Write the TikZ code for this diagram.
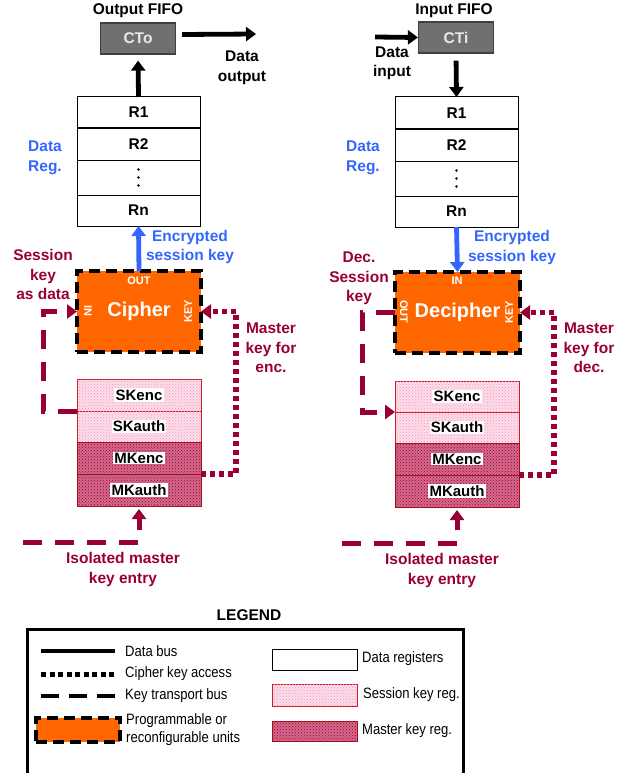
\documentclass[tikz,border=0pt]{standalone}
\usepackage{fontspec}
\setmainfont{Liberation Sans}
\newfontfamily\narrowfont[FakeStretch=0.87]{Liberation Sans}
\usetikzlibrary{arrows.meta,patterns}
\definecolor{maroon}{RGB}{153,0,51}
\definecolor{regblue}{RGB}{51,102,255}
\definecolor{orng}{RGB}{255,102,0}
\definecolor{skfill}{RGB}{252,222,234}
\definecolor{skdots}{RGB}{250,150,190}
\definecolor{mkfill}{RGB}{210,105,140}
\definecolor{mkdots}{RGB}{160,0,45}
\definecolor{regred}{RGB}{210,20,30}
\definecolor{fifogray}{RGB}{112,112,112}
\definecolor{fifotext}{RGB}{232,232,232}
\setlength{\fboxsep}{1.2pt}
\tikzset{
  lbl/.style={font=\bfseries\fontsize{15.5}{19.5}\selectfont, align=center, inner sep=0pt},
  dreg/.style={draw=black, line width=1pt, fill=white, minimum width=123pt, inner sep=0pt, outer sep=0pt, font=\bfseries\fontsize{15.5}{18}\selectfont},
  fifo/.style={draw=black!75, line width=1.2pt, fill=fifogray, minimum width=75pt, minimum height=31pt, inner sep=0pt, text=fifotext, font=\bfseries\fontsize{15.5}{18}\selectfont},
  unit/.style={draw=black, line width=3.5pt, dash pattern=on 11pt off 6pt, fill=orng, minimum width=124pt, minimum height=81pt, inner sep=0pt, outer sep=0pt, text=white, font=\bfseries\fontsize{20}{24}\selectfont},
  port/.style={text=white, inner sep=0pt, font=\bfseries\fontsize{11}{13}\selectfont},
  skreg/.style={draw=regred, line width=0.9pt, fill=skfill, postaction={pattern=crosshatch dots, pattern color=skdots}, minimum width=124pt, inner sep=0pt, outer sep=0pt, font=\bfseries\fontsize{15}{18}\selectfont},
  mkreg/.style={draw=regred!80!black, line width=0.9pt, fill=mkfill, postaction={pattern=crosshatch dots, pattern color=mkdots}, minimum width=124pt, inner sep=0pt, outer sep=0pt, font=\bfseries\fontsize{15}{18}\selectfont},
  bus/.style={line width=4.8pt, -{Triangle[length=10pt,width=14pt]}},
  bluebus/.style={bus, draw=regblue},
  keybus/.style={draw=maroon, line width=5pt, dash pattern=on 19pt off 13pt, -{Triangle[length=10pt,width=14pt]}},
  keyacc/.style={draw=maroon, line width=5.5pt, dash pattern=on 5pt off 4pt, -{Triangle[length=10pt,width=14pt]}},
  legtxt/.style={anchor=west, inner sep=0pt, font=\narrowfont\fontsize{15}{18}\selectfont},
}
\begin{document}
\begin{tikzpicture}[x=1pt,y=-1pt]
\useasboundingbox (0,0) rectangle (626,773);

% ---------------- left (cipher) side ----------------
\node[lbl] (ofifo) at (138,11) {Output FIFO};
\node[fifo] (CTo) at (138,38.5) {CTo};
\coordinate (dout) at (256,34);
\draw[bus] ([shift={(6,-4)}]CTo.east) -- (dout);
\node[lbl] (doutlbl) at (242,68) {Data\\output};

\node[dreg, minimum height=31pt] (R1L) at (138.5,112.5) {R1};
\node[dreg, minimum height=32pt] (R2L) at (138.5,144) {R2};
\node[dreg, minimum height=35pt] (DL) at (138.5,177.5) {};
\node[dreg, minimum height=31pt] (RnL) at (138.5,210.5) {Rn};
\foreach \d in {-8,0,8} \fill ([yshift=\d pt]DL.center) circle (1.3pt);
\node[lbl, text=regblue] (dregL) at (45,158) {Data\\Reg.};
\draw[bus, shorten >=6pt] (R1L.north) -- (CTo.south);

\node[unit] (Ci) at (139,311.5) {Cipher};
\node[port] (CiOut) at (139,281) {OUT};
\node[port, rotate=-90] (CiIn) at (88,311) {IN};
\node[port, rotate=90] (CiKey) at (188,311) {KEY};
\draw[bluebus] (Ci.north) -- (RnL.south);
\node[lbl, text=regblue] (esk1) at (190,247) {Encrypted\\session key};

\node[skreg, minimum height=32pt] (SKencL) at (139,395) {\colorbox{white}{SKenc}};
\node[skreg, minimum height=31pt] (SKauthL) at (139,426.5) {\colorbox{white}{SKauth}};
\node[mkreg, minimum height=32pt] (MKencL) at (139,458) {\colorbox{white}{MKenc}};
\node[mkreg, minimum height=32pt] (MKauthL) at (139,490) {\colorbox{white}{MKauth}};

\draw[keybus] (SKencL.south west) -- ++(-34,0) |- (Ci.west);
\node[lbl, text=maroon] (skdata) at (43,274.5) {Session\\key\\as data};
\draw[keyacc] (MKencL.south east) -- ++(35,0) |- (Ci.east);
\node[lbl, text=maroon] (mkenc) at (271,348) {Master\\key for\\enc.};

\coordinate (imeL) at (23,542);
\draw[keybus, shorten >=3pt] (imeL) -| (MKauthL.south);
\node[lbl, text=maroon] (imeLlbl) at (123,569.5) {Isolated master\\key entry};

% ---------------- right (decipher) side ----------------
\node[lbl] (ififo) at (454,11) {Input FIFO};
\node[fifo] (CTi) at (456,37.5) {CTi};
\coordinate (din) at (375,37);
\draw[bus] (din) -- (CTi.west);
\node[lbl] (dinlbl) at (392,63.5) {Data\\input};

\node[dreg, minimum height=32pt] (R1R) at (456.5,113) {R1};
\node[dreg, minimum height=32pt] (R2R) at (456.5,145) {R2};
\node[dreg, minimum height=35pt] (DR) at (456.5,178.5) {};
\node[dreg, minimum height=31pt] (RnR) at (456.5,211.5) {Rn};
\foreach \d in {-8,0,8} \fill ([yshift=\d pt]DR.center) circle (1.3pt);
\node[lbl, text=regblue] (dregR) at (363,158) {Data\\Reg.};
\draw[bus, shorten <=7pt] (CTi.south) -- (R1R.north);

\node[unit, minimum width=125pt] (De) at (457.5,312.5) {Decipher};
\node[port] (DeIn) at (457,281) {IN};
\node[port, rotate=-90] (DeOut) at (404,312) {OUT};
\node[port, rotate=90] (DeKey) at (509,312) {KEY};
\draw[bluebus] (RnR.south) -- (De.north);
\node[lbl, text=regblue] (esk2) at (512,247.5) {Encrypted\\session key};

\node[skreg, minimum height=31pt] (SKencR) at (457,396.5) {\colorbox{white}{SKenc}};
\node[skreg, minimum height=31pt] (SKauthR) at (457,427.5) {\colorbox{white}{SKauth}};
\node[mkreg, minimum height=32pt] (MKencR) at (457,459) {\colorbox{white}{MKenc}};
\node[mkreg, minimum height=32pt] (MKauthR) at (457,491) {\colorbox{white}{MKauth}};

\draw[keybus] (De.west) -- ++(-33,0) |- (SKencR.south west);
\node[lbl, text=maroon] (decsk) at (359,278.5) {Dec.\\Session\\key};
\draw[keyacc] (MKencR.south east) -- ++(35,0) |- (De.east);
\node[lbl, text=maroon] (mkdec) at (589,348) {Master\\key for\\dec.};

\coordinate (imeR) at (342,543);
\draw[keybus, shorten >=3pt] (imeR) -| (MKauthR.south);
\node[lbl, text=maroon] (imeRlbl) at (442,570.5) {Isolated master\\key entry};

% ---------------- legend ----------------
\node[lbl] (legend) at (249,615) {LEGEND};
\draw[line width=3pt] (27,775) -- (27,629) -- (463,629) -- (463,775);

\coordinate (l1a) at (41,651); \coordinate (l1b) at (115,651);
\draw[line width=4pt] (l1a) -- (l1b);
\node[legtxt] (t1) at (125,651) {Data bus};
\coordinate (l2a) at (41,674); \coordinate (l2b) at (115,674);
\draw[line width=5pt, dash pattern=on 5pt off 3.5pt] (l2a) -- (l2b);
\node[legtxt] (t2) at (125,674) {Cipher key access};
\coordinate (l3a) at (41,696); \coordinate (l3b) at (115,696);
\draw[line width=4.5pt, dash pattern=on 18pt off 10pt] (l3a) -- (l3b);
\node[legtxt] (t3) at (125,696) {Key transport bus};
\node[draw=black, line width=3.5pt, dash pattern=on 11pt off 6pt, fill=orng, minimum width=84pt, minimum height=24pt, inner sep=0pt] (lu) at (78,730) {};
\node[legtxt, align=left, font=\narrowfont\fontsize{15}{18}\selectfont] (t4) at (126,730) {Programmable or\\reconfigurable units};

\node[draw=black, line width=1pt, fill=white, minimum width=85pt, minimum height=21pt, inner sep=0pt] (ldr) at (314.5,659.5) {};
\node[legtxt] (t5) at (362,659) {Data registers};
\node[skreg, minimum width=85pt, minimum height=22pt] (lsk) at (314.5,695) {};
\node[legtxt] (t6) at (363,695) {Session key reg.};
\node[mkreg, minimum width=85pt, minimum height=20pt] (lmk) at (314.5,731) {};
\node[legtxt] (t7) at (362,731) {Master key reg.};
\end{tikzpicture}
\end{document}
